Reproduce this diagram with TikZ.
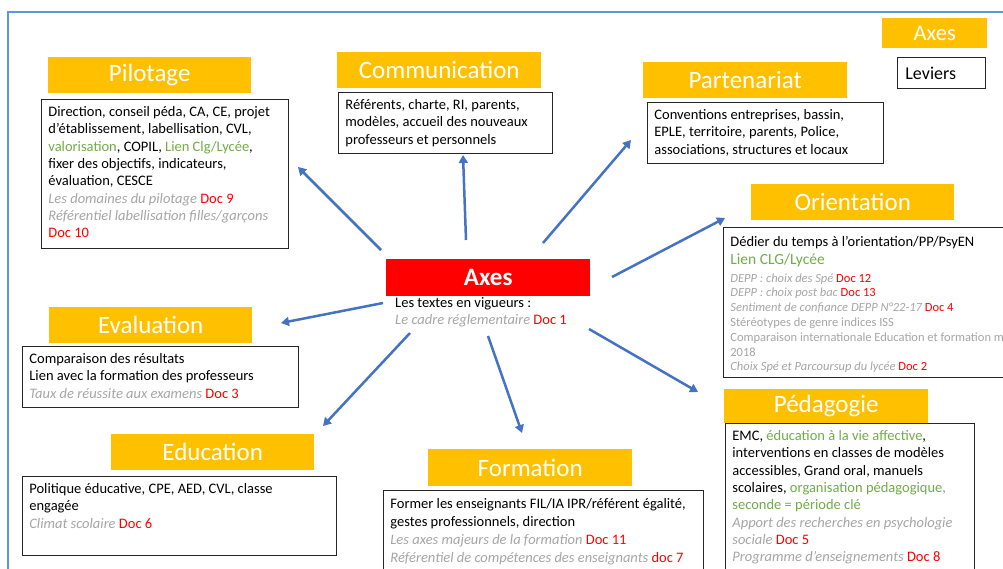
\documentclass[tikz,border=0pt]{standalone}
\usepackage{fontspec}
\setmainfont{Carlito}
\usetikzlibrary{arrows.meta}
\definecolor{hdr}{RGB}{255,192,0}
\definecolor{axred}{RGB}{255,0,0}
\definecolor{grn}{RGB}{112,173,71}
\definecolor{gry}{RGB}{166,166,166}
\definecolor{arr}{RGB}{68,114,196}
\definecolor{frm}{RGB}{91,155,213}
\newcommand\gr[1]{\textcolor{grn}{#1}}
\newcommand\gi[1]{\textcolor{gry}{\itshape #1}}
\newcommand\dc[1]{\textcolor{axred}{#1}}
\newcommand\bbox[3]{\parbox[t][#2][t]{#1}{\raggedright\strut #3}}
\newcommand\bodyfont{\fontsize{14.5}{17.3}\selectfont}
\newcommand\smallfont{\fontsize{12.5}{14.8}\selectfont}
\tikzset{
  hd/.style={fill=hdr, text=white, anchor=north west, inner sep=0pt,
    font=\fontsize{25}{28}\selectfont},
  txtbox/.style={draw=black!85, line width=0.8pt, fill=white, anchor=north west,
    inner xsep=7pt, inner ysep=5pt, font=\bodyfont},
  plain/.style={anchor=north west, inner xsep=7pt, inner ysep=5pt, font=\bodyfont},
  ar/.style={draw=arr, line width=2.5pt, -{Triangle[width=9pt,length=8pt]}},
}
\begin{document}
\begin{tikzpicture}[x=1pt,y=-1pt]
\useasboundingbox (0,0) rectangle (1003,568);
\clip (0,0) rectangle (1003,568);
\fill[white] (0,0) rectangle (1003,568);
% frame
\draw[frm, line width=1.5pt] (8,580) -- (8,12) -- (1010,12);

% legend
\node[hd, minimum width=105pt, minimum height=30pt, font=\fontsize{22.5}{26}\selectfont] (legax) at (882,18) {Axes};
\node[draw=black!85, line width=0.8pt, anchor=north west, minimum width=88pt, minimum height=31pt, inner xsep=8pt, text width=72pt, align=left, font=\fontsize{18}{20}\selectfont] (legle) at (897,57) {Leviers};

% headers
\node[hd, minimum width=203pt, minimum height=36pt] (hpil) at (48,57) {Pilotage};
\node[hd, minimum width=204pt, minimum height=36pt] (hcom) at (337,52) {Communication};
\node[hd, minimum width=204pt, minimum height=36pt] (hpar) at (643,62) {Partenariat};
\node[hd, minimum width=203pt, minimum height=36pt] (hori) at (751,184) {Orientation};
\node[hd, minimum width=203pt, minimum height=36pt] (heva) at (49,307) {Evaluation};
\node[hd, minimum width=203pt, minimum height=36pt] (hedu) at (111,434) {Education};
\node[hd, minimum width=204pt, minimum height=37pt] (hfor) at (428,449) {Formation};
\node[hd, minimum width=204pt, minimum height=34pt] (hped) at (724,389) {Pédagogie};
\node[hd, fill=axred, minimum width=204pt, minimum height=37pt, font=\fontsize{25}{28}\selectfont\bfseries] (axes) at (386,259) {Axes};

% boxes
\node[txtbox] (bpil) at (41,99) {\bbox{233pt}{139pt}{Direction, conseil péda, CA, CE, projet\\
d’établissement, labellisation, CVL,\\
\gr{valorisation}, COPIL, \gr{Lien Clg/Lycée},\\
fixer des objectifs, indicateurs,\\
évaluation, CESCE\\
\gi{Les domaines du pilotage} \dc{Doc 9}\\
\gi{Référentiel labellisation filles/garçons}\\
\dc{Doc 10}}};

\node[txtbox] (bcom) at (338,92) {\bbox{200pt}{51pt}{Référents, charte, RI, parents,\\
modèles, accueil des nouveaux\\
professeurs et personnels}};

\node[txtbox] (bpar) at (647,102) {\bbox{222pt}{51pt}{Conventions entreprises, bassin,\\
EPLE, territoire, parents, Police,\\
associations, structures et locaux}};

\node[txtbox, inner ysep=7pt] (bori) at (723,227) {\bbox{320pt}{136pt}{Dédier du temps à l’orientation/PP/PsyEN\\[1pt]
{\fontsize{15.5}{18}\selectfont\gr{Lien CLG/Lycée}}\par\vspace{2.5pt}
{\smallfont \gi{DEPP : choix des Spé} \dc{Doc 12}\\
\gi{DEPP : choix post bac} \dc{Doc 13}\\
\gi{Sentiment de confiance DEPP N°22-17} \dc{Doc 4}\\
\textcolor{gry}{Stéréotypes de genre indices ISS}\\
\textcolor{gry}{Comparaison internationale Education et formation m}\\
\textcolor{gry}{2018}\\
\gi{Choix Spé et Parcoursup du lycée} \dc{Doc 2}\par}}};

\node[txtbox] (beva) at (22,346) {\bbox{262pt}{51pt}{Comparaison des résultats\\
Lien avec la formation des professeurs\\
\gi{Taux de réussite aux examens} \dc{Doc 3}}};

\node[txtbox] (bedu) at (22,476) {\bbox{300pt}{69pt}{Politique éducative, CPE, AED, CVL, classe\\
engagée\\
\gi{Climat scolaire} \dc{Doc 6}}};

\node[txtbox, font=\fontsize{14.5}{18}\selectfont] (bfor) at (383,490) {\bbox{306pt}{90pt}{Former les enseignants FIL/IA IPR/référent égalité,\\
gestes professionnels, direction\\
\gi{Les axes majeurs de la formation} \dc{Doc 11}\\
\gi{Référentiel de compétences des enseignants} \dc{doc 7}}};

\node[txtbox] (bped) at (725,423) {\bbox{235pt}{150pt}{EMC, \gr{éducation à la vie affective},\\
interventions en classes de modèles\\
accessibles, Grand oral, manuels\\
scolaires, \gr{organisation pédagogique,}\\
\gr{seconde = période clé}\\
\gi{Apport des recherches en psychologie}\\
\gi{sociale} \dc{Doc 5}\\
\gi{Programme d’enseignements} \dc{Doc 8}}};

\node[plain] (axtxt) at (388,290) {\bbox{220pt}{40pt}{Les textes en vigueurs :\\
\gi{Le cadre réglementaire} \dc{Doc 1}}};

% arrows
\coordinate (s1) at (381,250); \coordinate (t1) at (298,167);
\coordinate (s2) at (466,240); \coordinate (t2) at (463,155);
\coordinate (s3) at (543,243); \coordinate (t3) at (631,140);
\coordinate (s4) at (612,277); \coordinate (t4) at (725,218);
\coordinate (s5) at (383,303); \coordinate (t5) at (281,323);
\coordinate (s6) at (410,333); \coordinate (t6) at (323,426);
\coordinate (s7) at (488,336); \coordinate (t7) at (522,433);
\coordinate (s8) at (589,329); \coordinate (t8) at (698,392);
\foreach \i in {1,...,8} \draw[ar] (s\i) -- (t\i);
\end{tikzpicture}
\end{document}
